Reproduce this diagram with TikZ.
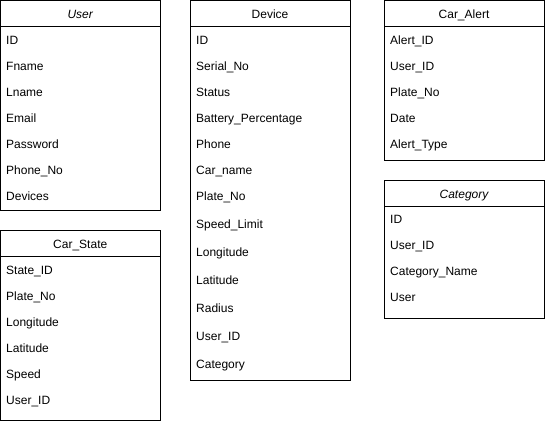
\documentclass[tikz,border=0pt]{standalone}
\usepackage{fontspec}
\setmainfont{Liberation Sans}
\begin{document}
\begin{tikzpicture}[x=1pt,y=-1pt,
  tbl/.style={draw=black,line width=1pt,fill=white},
  row/.style={anchor=base west,inner sep=0pt,font=\fontsize{12}{14}\selectfont},
  ttl/.style={anchor=base,inner sep=0pt,font=\fontsize{12}{14}\selectfont}]
\useasboundingbox (0,0) rectangle (545,421);
% User
\draw[tbl] (0.5,0.5) rectangle (160,210);
\draw[line width=1pt] (0.5,26) -- (160,26);
\node[ttl] (userT) at (80.25,18) {\itshape User};
\foreach \t/\y [count=\i] in {ID/40,Fname/66,Lname/92,Email/118,Password/144,Phone\_No/170,Devices/196}
  \node[row] (user\i) at (6,\y+4.3) {\t};
% Car_State
\draw[tbl] (0.5,230) rectangle (160,420);
\draw[line width=1pt] (0.5,256) -- (160,256);
\node[ttl] (stateT) at (80.25,248) {Car\_State};
\foreach \t/\y [count=\i] in {State\_ID/270,Plate\_No/296,Longitude/322,Latitude/348,Speed/374,User\_ID/400}
  \node[row] (state\i) at (6,\y+4.3) {\t};
% Device
\draw[tbl] (190,0.5) rectangle (350,380);
\draw[line width=1pt] (190,26) -- (350,26);
\node[ttl] (devT) at (270,18) {Device};
\foreach \t/\y [count=\i] in {ID/40,Serial\_No/66,Status/92,Battery\_Percentage/118,Phone/144,Car\_name/170,Plate\_No/196,Speed\_Limit/224,Longitude/252,Latitude/280,Radius/308,User\_ID/336,Category/364}
  \node[row] (dev\i) at (196,\y+4.3) {\t};
% Car_Alert
\draw[tbl] (384,0.5) rectangle (544,160);
\draw[line width=1pt] (384,26) -- (544,26);
\node[ttl] (alertT) at (464,18) {Car\_Alert};
\foreach \t/\y [count=\i] in {Alert\_ID/40,User\_ID/66,Plate\_No/92,Date/118,Alert\_Type/144}
  \node[row] (alert\i) at (390,\y+4.3) {\t};
% Category
\draw[tbl] (384,180) rectangle (544,318);
\draw[line width=1pt] (384,206) -- (544,206);
\node[ttl] (catT) at (464,198) {\itshape Category};
\foreach \t/\y [count=\i] in {ID/219,User\_ID/245,Category\_Name/271,User/297}
  \node[row] (cat\i) at (390,\y+4.3) {\t};
\end{tikzpicture}
\end{document}
